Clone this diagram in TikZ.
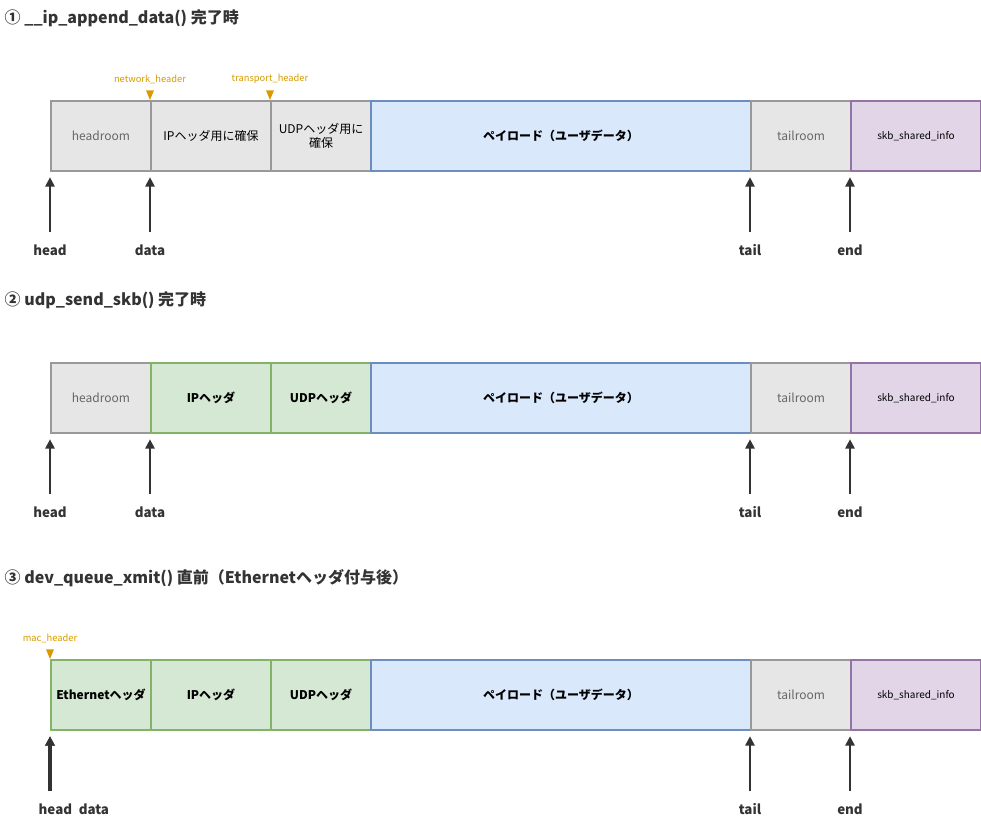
\documentclass[tikz,border=0pt]{standalone}
\usepackage{fontspec}
\setmainfont{Noto Sans CJK JP}
\usetikzlibrary{positioning, arrows.meta, shapes.geometric}
\definecolor{grayfill}{HTML}{E6E6E6}
\definecolor{graydraw}{HTML}{999999}
\definecolor{greenfill}{HTML}{D5E8D4}
\definecolor{greendraw}{HTML}{82B366}
\definecolor{bluefill}{HTML}{DAE8FC}
\definecolor{bluedraw}{HTML}{6C8EBF}
\definecolor{purplefill}{HTML}{E1D5E7}
\definecolor{purpledraw}{HTML}{9673A6}
\definecolor{ptrcol}{HTML}{D79B00}
\definecolor{inkcol}{HTML}{333333}
\tikzset{
  cell/.style={draw, line width=1.5pt, anchor=north west, minimum height=52.5pt,
    inner sep=1pt, align=center, font=\fontsize{9}{10.5}\selectfont},
  gray/.style={cell, fill=grayfill, draw=graydraw, text=black!60},
  note/.style={gray, text=black},
  green/.style={cell, fill=greenfill, draw=greendraw, font=\fontsize{9}{10.5}\selectfont\bfseries},
  blue/.style={cell, fill=bluefill, draw=bluedraw, font=\fontsize{9}{10.5}\selectfont\bfseries},
  purple/.style={cell, fill=purplefill, draw=purpledraw, font=\fontsize{7.5}{9}\selectfont},
  ptr/.style={-{Triangle[length=7pt,width=7pt]}, line width=1.5pt, draw=inkcol},
  ptrlabel/.style={font=\fontsize{10}{12}\selectfont\bfseries, text=inkcol},
  hdr/.style={font=\fontsize{7}{8}\selectfont\itshape, text=ptrcol},
  hdrmark/.style={fill=ptrcol, isosceles triangle, shape border rotate=-90, inner sep=0pt,
    minimum width=6pt, minimum height=6pt},
  title/.style={font=\fontsize{12}{14}\selectfont\bfseries, text=inkcol, anchor=west}
}
\begin{document}
\begin{tikzpicture}[x=0.75pt, y=-0.75pt]
\useasboundingbox (0,0) rectangle (981,815);

% titles
\node[title] (t1) at (0,18) {① \_\_ip\_append\_data() 完了時};
\node[title] (t2) at (0,300) {② udp\_send\_skb() 完了時};
\node[title] (t3) at (0,578) {③ dev\_queue\_xmit() 直前（Ethernetヘッダ付与後）};

% ROW 1
\foreach \x/\w/\sty/\nm/\txt in
{50/100/gray/a1/headroom,150/120/note/b1/IPヘッダ用に確保,270/100/note/c1/{UDPヘッダ用に\\確保},
 370/380/blue/d1/ペイロード（ユーザデータ）,750/100/gray/e1/tailroom,850/130/purple/f1/skb\_shared\_info}
\node[\sty, minimum width=\w*0.75pt] (\nm) at (\x,100) {\txt};

% ROW 2
\foreach \x/\w/\sty/\nm/\txt in
{50/100/gray/a2/headroom,150/120/green/b2/IPヘッダ,270/100/green/c2/UDPヘッダ,
 370/380/blue/d2/ペイロード（ユーザデータ）,750/100/gray/e2/tailroom,850/130/purple/f2/skb\_shared\_info}
\node[\sty, minimum width=\w*0.75pt] (\nm) at (\x,362) {\txt};

% ROW 3
\foreach \x/\w/\sty/\nm/\txt in
{50/100/green/a3/Ethernetヘッダ,150/120/green/b3/IPヘッダ,270/100/green/c3/UDPヘッダ,
 370/380/blue/d3/ペイロード（ユーザデータ）,750/100/gray/e3/tailroom,850/130/purple/f3/skb\_shared\_info}
\node[\sty, minimum width=\w*0.75pt] (\nm) at (\x,659) {\txt};

% header pointers
\node[hdrmark] (nh) at (150,93) {};
\node[hdr, above=1pt of nh] {network\_header};
\node[hdrmark] (th) at (270,93) {};
\node[hdr, above=1pt of th] {transport\_header};
\node[hdrmark] (mh) at (50,652) {};
\node[hdr, above=1pt of mh] {mac\_header};

% skb pointers
\foreach \r in {1,2,3}{
  \foreach \c/\anc in {head/a\r.south west,data/b\r.south west,tail/e\r.south west,end/f\r.south west}{
    \coordinate (\c\r) at ([yshift=-45pt]\anc);
  }
}
\coordinate (data3) at ([yshift=-45pt]a3.south west);
\foreach \r in {1,2,3}{
  \draw[ptr] (head\r) -- ([yshift=-4pt]a\r.south west);
  \draw[ptr] (tail\r) -- ([yshift=-4pt]e\r.south west);
  \draw[ptr] (end\r) -- ([yshift=-4pt]f\r.south west);
}
\draw[ptr] (data1) -- ([yshift=-4pt]b1.south west);
\draw[ptr] (data2) -- ([yshift=-4pt]b2.south west);
\draw[ptr, line width=2.5pt] (data3) -- ([yshift=-4pt]a3.south west);

\foreach \r in {1,2}{
  \node[ptrlabel, below=6pt of head\r] {head};
  \node[ptrlabel, below=6pt of data\r] {data};
}
\foreach \r in {1,2,3}{
  \node[ptrlabel, below=6pt of tail\r] {tail};
  \node[ptrlabel, below=6pt of end\r] {end};
}
\node[ptrlabel, anchor=north west] (hd3) at ([xshift=-12pt,yshift=-6pt]head3) {head\enspace data};
\end{tikzpicture}
\end{document}
